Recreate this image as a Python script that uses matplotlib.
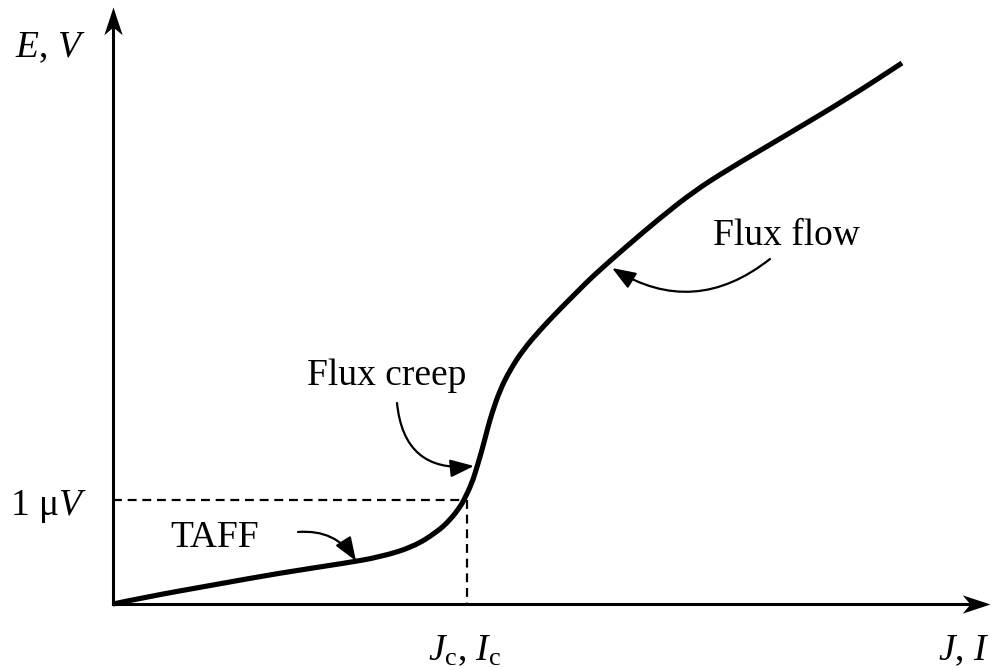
import numpy as np
import matplotlib.pyplot as plt
from matplotlib.path import Path
from matplotlib.patches import PathPatch

plt.rcParams['font.family'] = ['Liberation Serif', 'DejaVu Serif']
plt.rcParams['mathtext.fontset'] = 'custom'
plt.rcParams['mathtext.rm'] = 'Liberation Serif'
plt.rcParams['mathtext.it'] = 'Liberation Serif:italic'

# E-J characteristic: J in units of Jc, E in units of the 1 uV criterion
j_vals = [0.0, 0.0932, 0.2825, 0.4718, 0.6582, 0.7542, 0.8475, 0.9153,
          0.9520, 0.9802, 0.9915, 1.0141, 1.0282, 1.0424, 1.0593, 1.0706,
          1.0932, 1.1215, 1.1582, 1.2062, 1.2627, 1.3136, 1.3559, 1.4520,
          1.5452, 1.6384, 1.7345, 1.8927, 2.0819, 2.2288]
e_vals = [0.0, 0.0673, 0.1827, 0.2981, 0.3942, 0.4519, 0.5481, 0.6923,
          0.8077, 0.9327, 1.0, 1.1635, 1.3173, 1.4808, 1.7019, 1.8365,
          2.0577, 2.25, 2.4423, 2.6346, 2.8365, 3.0096, 3.1538, 3.4423,
          3.7115, 3.9615, 4.1731, 4.4904, 4.8750, 5.2019]
j_crit = 1.0
e_crit = 1.0

regimes = ["TAFF", "Flux creep", "Flux flow"]

# pixel scale of the drawing
PX_X0, PX_Y0 = 113, 604
SX, SY = 354.0, 104.0


def px(x, y):
    return (x - PX_X0) / SX, (PX_Y0 - y) / SY


def smooth_path(xs, ys):
    # quadratic B-spline through the midpoints, control at each point
    pts = np.column_stack([xs, ys])
    verts = [pts[0]]
    codes = [Path.MOVETO]
    for i in range(1, len(pts) - 1):
        verts += [pts[i], (pts[i] + pts[i + 1]) / 2]
        codes += [Path.CURVE3, Path.CURVE3]
    verts.append(pts[-1])
    codes.append(Path.LINETO)
    return Path(verts, codes)


fig = plt.figure(figsize=(9.93, 6.70), dpi=100)
ax = fig.add_axes([0, 0, 1, 1])
ax.set_xlim(px(0, 0)[0], px(993, 0)[0])
ax.set_ylim(px(0, 670)[1], px(0, 0)[1])
ax.axis('off')

# axes: plain lines plus stealth-shaped heads drawn as markers
head_right = Path([(0, 0), (-1, 0.33), (-0.72, 0), (-1, -0.33), (0, 0)],
                  [Path.MOVETO] + [Path.LINETO] * 3 + [Path.CLOSEPOLY])
head_up = Path([(0, 0), (-0.33, -1), (0, -0.72), (0.33, -1), (0, 0)],
               [Path.MOVETO] + [Path.LINETO] * 3 + [Path.CLOSEPOLY])
x_tip = px(990, PX_Y0)
y_tip = px(PX_X0, 7)
ax.plot([0, x_tip[0] - 0.03], [0, 0], color='k', lw=2.2,
        solid_capstyle='projecting')
ax.plot([0, 0], [0, y_tip[1] - 0.1], color='k', lw=2.2,
        solid_capstyle='projecting')
ax.plot(*x_tip, marker=head_right, ms=40, color='k', mew=0)
ax.plot(*y_tip, marker=head_up, ms=40, color='k', mew=0)

# critical current / 1 uV criterion
ax.plot([0, j_crit], [e_crit, e_crit], color='k', lw=1.6, ls=(0, (4, 2.6)))
ax.plot([j_crit, j_crit], [e_crit, 0], color='k', lw=1.6, ls=(0, (4, 2.6)))

ax.add_patch(PathPatch(smooth_path(j_vals, e_vals), facecolor='none',
                       edgecolor='k', lw=3.7, capstyle='butt',
                       joinstyle='round'))

fs = 27
ax.text(*px(15, 57), r'$E$, $V$', fontsize=fs, va='baseline', ha='left')
ax.text(*px(10, 515), u'1 \u03bc$V$', fontsize=fs, va='baseline', ha='left')
ax.text(*px(428, 660), r'$J_{\mathrm{c}}$, $I_{\mathrm{c}}$', fontsize=fs,
        va='baseline', ha='left')
ax.text(*px(938, 660), r'$J$, $I$', fontsize=fs, va='baseline', ha='left')

# regime labels with curved pointers
label_pos = {"TAFF": (170, 547), "Flux creep": (307, 385),
             "Flux flow": (713, 245)}
tail_pos = {"TAFF": (298, 532), "Flux creep": (397, 403),
            "Flux flow": (770, 259)}
tip_pos = {"TAFF": (356, 561), "Flux creep": (474, 466),
           "Flux flow": (612, 268)}
rads = {"TAFF": -0.3, "Flux creep": 0.5, "Flux flow": -0.35}
for name in regimes:
    ax.text(*px(*label_pos[name]), name, fontsize=fs, va='baseline',
            ha='left')
    ax.annotate('', xy=px(*tip_pos[name]), xytext=px(*tail_pos[name]),
                arrowprops=dict(arrowstyle='-|>,head_length=0.8,head_width=0.3',
                                lw=1.6, color='k', shrinkA=0, shrinkB=0,
                                mutation_scale=18,
                                connectionstyle='arc3,rad=%g' % rads[name]))

fig.savefig('out.png', dpi=100)
